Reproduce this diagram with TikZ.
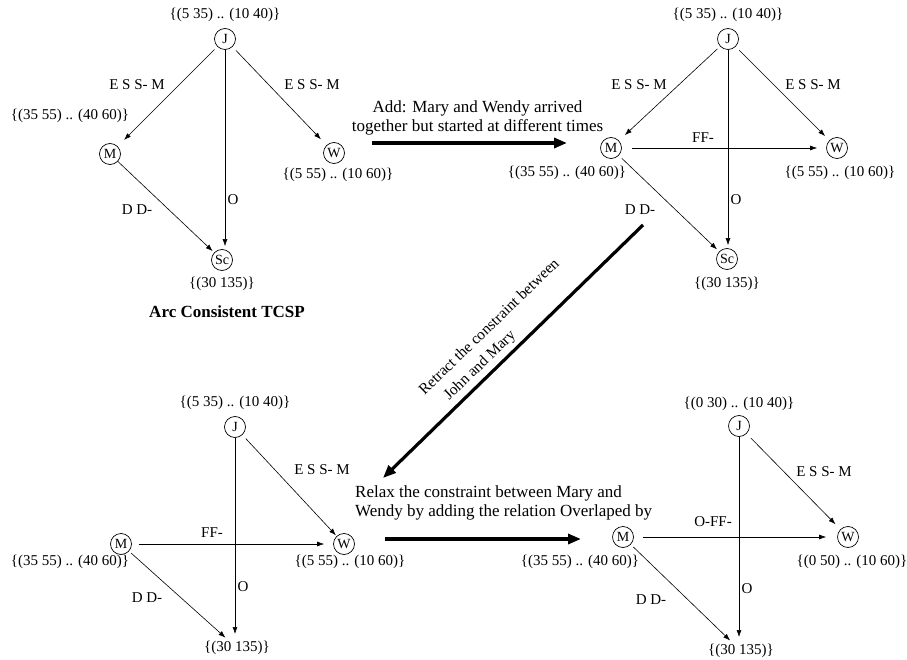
\documentclass[tikz,border=0pt]{standalone}
\usepackage{fontspec}
\setmainfont{Liberation Serif}
\usetikzlibrary{arrows.meta}
\begin{document}
\begin{tikzpicture}[x=1pt,y=-1pt,
  vtx/.style={circle,draw,line width=0.7pt,minimum size=21pt,inner sep=0pt,font=\fontsize{14}{14}\selectfont},
  lbl/.style={font=\fontsize{15}{17}\selectfont,inner sep=0pt},
  edge/.style={-{Latex[length=7pt,width=5pt]},line width=0.6pt},
  big/.style={-{Triangle[length=13pt,width=10pt]},line width=3.2pt},
  note/.style={font=\fontsize{17}{19}\selectfont,inner sep=0pt,align=center}]
\useasboundingbox (0,0) rectangle (907,660);

% ---------- top-left graph ----------
\node[vtx] (J1) at (225,39) {J};
\node[vtx] (M1) at (110,154) {M};
\node[vtx] (W1) at (334,153) {W};
\node[vtx] (S1) at (222,260) {Sc};
\node[lbl] (J1l) at (225,15) {\{(5 35) .. (10 40)\}};
\node[lbl] (M1l) at (70,116) {\{(35 55) .. (40 60)\}};
\node[lbl] (W1l) at (338,175) {\{(5 55) .. (10 60)\}};
\node[lbl] (S1l) at (222,284) {\{(30 135)\}};
\node[lbl] (e1a) at (137,85) {E S S- M};
\node[lbl] (e1b) at (312,85) {E S S- M};
\node[lbl] (e1c) at (233,200) {O};
\node[lbl] (e1d) at (137,210) {D D-};
\node[font=\fontsize{17}{19}\selectfont\bfseries,inner sep=0pt] (t1) at (227,312) {Arc Consistent TCSP};
\draw[edge,shorten <=4pt,shorten >=9pt] (J1) -- (M1);
\draw[edge,shorten <=5pt,shorten >=8pt] (J1) -- (W1);
\draw[edge,shorten >=3pt] (J1) -- (J1 |- S1.north);
\draw[edge,shorten >=2pt] (M1) -- (S1);

% ---------- top-right graph ----------
\node[vtx] (J2) at (728,39) {J};
\node[vtx] (M2) at (611,148) {M};
\node[vtx] (W2) at (837,148) {W};
\node[vtx] (S2) at (727,259) {Sc};
\node[lbl] (J2l) at (728,15) {\{(5 35) .. (10 40)\}};
\node[lbl] (M2l) at (567,173) {\{(35 55) .. (40 60)\}};
\node[lbl] (W2l) at (840,173) {\{(5 55) .. (10 60)\}};
\node[lbl] (S2l) at (727,284) {\{(30 135)\}};
\node[lbl] (e2a) at (639,85) {E S S- M};
\node[lbl] (e2b) at (813,85) {E S S- M};
\node[lbl] (e2f) at (703,138) {FF-};
\node[lbl] (e2c) at (736,200) {O};
\node[lbl] (e2d) at (640,210) {D D-};
\draw[edge,shorten <=3.5pt,shorten >=8pt] (J2) -- (M2);
\draw[edge,shorten <=5pt,shorten >=6pt] (J2) -- (W2);
\draw[edge,shorten <=10pt,shorten >=9pt] (M2) -- (W2);
\draw[edge,shorten >=3pt] (J2) -- (J2 |- S2.north);
\draw[edge,shorten <=4pt,shorten >=3pt] (M2) -- (S2);

% ---------- bottom-left graph ----------
\node[vtx] (J3) at (235,427) {J};
\node[vtx] (M3) at (121,544) {M};
\node[vtx] (W3) at (344,544) {W};
\node[lbl] (J3l) at (235,403) {\{(5 35) .. (10 40)\}};
\node[lbl] (M3l) at (70,562) {\{(35 55) .. (40 60)\}};
\node[lbl] (W3l) at (350,562) {\{(5 55) .. (10 60)\}};
\node[lbl] (T3) at (237,648) {\{(30 135)\}};
\node[lbl] (e3b) at (322,470) {E S S- M};
\node[lbl] (e3f) at (212,533) {FF-};
\node[lbl] (e3c) at (243,587) {O};
\node[lbl] (e3d) at (147,598) {D D-};
\draw[edge,shorten <=5pt,shorten >=1pt] (J3) -- (W3);
\draw[edge,shorten <=7pt,shorten >=9pt] (M3) -- (W3);
\draw[edge,shorten >=7pt] (J3) -- (J3 |- T3.north);
\draw[edge,shorten <=3pt,shorten >=5pt] (M3) -- (T3);

% ---------- bottom-right graph ----------
\node[vtx] (J4) at (739,426) {J};
\node[vtx] (M4) at (623,537) {M};
\node[vtx] (W4) at (848,537) {W};
\node[lbl] (J4l) at (739,404) {\{(0 30) .. (10 40)\}};
\node[lbl] (M4l) at (580,562) {\{(35 55) .. (40 60)\}};
\node[lbl] (W4l) at (852,562) {\{(0 50) .. (10 60)\}};
\node[lbl] (T4) at (741,651) {\{(30 135)\}};
\node[lbl] (e4b) at (824,472) {E S S- M};
\node[lbl] (e4f) at (713,522) {O-FF-};
\node[lbl] (e4c) at (747,589) {O};
\node[lbl] (e4d) at (651,600) {D D-};
\draw[edge,shorten <=6pt,shorten >=7pt] (J4) -- (W4);
\draw[edge,shorten <=9pt,shorten >=11pt] (M4) -- (W4);
\draw[edge,shorten >=7pt] (J4) -- (J4 |- T4.north);
\draw[edge,shorten <=3.5pt,shorten >=5pt] (M4) -- (T4);

% ---------- transition arrows ----------
\coordinate (a1s) at (372,143);
\coordinate (a1e) at (567,143);
\draw[big] (a1s) -- (a1e);
\node[note] (n1) at (477.5,117.5) {Add: Mary and Wendy arrived\\together but started at different times};

\coordinate (a2s) at (643,225);
\coordinate (a2e) at (383,478);
\draw[big] (a2s) -- (a2e);
\node[font=\fontsize{15.5}{21}\selectfont,inner sep=0pt,align=left,rotate=44] (n2) at (497,335) {Retract the constraint between\\\hspace*{14pt}John and Mary};

\coordinate (a3s) at (385,539);
\coordinate (a3e) at (581,539);
\draw[big] (a3s) -- (a3e);
\node[note,align=left,anchor=west] (n3) at (355,502.5) {Relax the constraint between Mary and\\Wendy by adding the relation Overlaped by};
\end{tikzpicture}
\end{document}
